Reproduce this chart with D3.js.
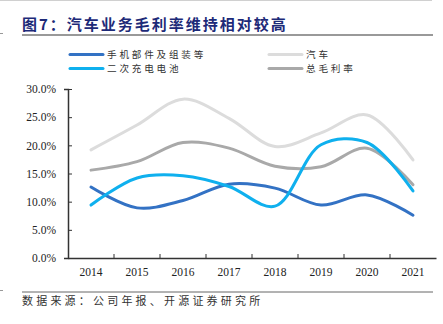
<!DOCTYPE html>
<html>
<head>
<meta charset="utf-8">
<script src="https://cdn.jsdelivr.net/npm/d3@7"></script>
<style>
  body { margin: 0; background: #fff; }
  svg { display: block; }
</style>
</head>
<body>
<svg id="chart" width="443" height="324"></svg>
<script>
// 数据
let years = ['2014', '2015', '2016', '2017', '2018', '2019', '2020', '2021'];
let phone = [12.6, 8.9, 10.2, 13.1, 12.4, 9.4, 11.2, 7.6];      // 手机部件及组装等
let auto = [19.2, 23.6, 28.2, 24.8, 19.8, 22.2, 25.4, 17.4];    // 汽车
let battery = [9.4, 14.2, 14.6, 12.7, 9.2, 20.1, 20.5, 11.9];   // 二次充电电池
let total = [15.6, 17.1, 20.5, 19.5, 16.3, 16.2, 19.5, 13.0];   // 总毛利率
let yTicks = [0, 5, 10, 15, 20, 25, 30];

let series = [
    {name: '手机部件及组装等', values: phone, color: '#3372C4'},
    {name: '汽车', values: auto, color: '#DCDCDC'},
    {name: '二次充电电池', values: battery, color: '#0FB0EE'},
    {name: '总毛利率', values: total, color: '#A9A9A9'}
];

let svg = d3.select('#chart');
const cjk = '"Noto Sans CJK SC", "Noto Sans", sans-serif';
const serif = '"Liberation Serif", "DejaVu Serif", serif';

// 顶部和底部的线
svg.append('line').attr('x1', 0).attr('x2', 432).attr('y1', 0.5).attr('y2', 0.5)
    .attr('stroke', '#d0d0d0').attr('stroke-width', 1);
svg.append('line').attr('x1', 22).attr('x2', 433).attr('y1', 35).attr('y2', 35)
    .attr('stroke', '#999').attr('stroke-width', 2);
svg.append('line').attr('x1', 22).attr('x2', 433).attr('y1', 292).attr('y2', 292)
    .attr('stroke', '#666').attr('stroke-width', 1);
svg.append('line').attr('x1', 0).attr('x2', 3).attr('y1', 33.5).attr('y2', 33.5).attr('stroke', '#999');
svg.append('line').attr('x1', 0).attr('x2', 3).attr('y1', 290.5).attr('y2', 290.5).attr('stroke', '#999');

// 标题
svg.append('text').attr('x', 22).attr('y', 30)
    .attr('font-family', cjk).attr('font-size', 15).attr('font-weight', 'bold')
    .attr('fill', '#1D2A78').attr('letter-spacing', 2)
    .text('图7：汽车业务毛利率维持相对较高');

// 来源
svg.append('text').attr('x', 22).attr('y', 305)
    .attr('font-family', cjk).attr('font-size', 11).attr('fill', '#333')
    .attr('letter-spacing', 3.2)
    .text('数据来源：公司年报、开源证券研究所');

// 图例
let legendPos = [[70, 54.5], [269, 54.5], [70, 68.5], [269, 68.5]];
series.forEach((s, i) => {
    let [lx, ly] = legendPos[i];
    svg.append('line').attr('x1', lx).attr('x2', lx + 33).attr('y1', ly).attr('y2', ly)
        .attr('stroke', s.color).attr('stroke-width', 3).attr('stroke-linecap', 'round');
    svg.append('text').attr('x', lx + 37).attr('y', ly + 3.5)
        .attr('font-family', cjk).attr('font-size', 9.6).attr('fill', '#333')
        .attr('letter-spacing', 2.8)
        .text(s.name);
});

// 比例尺
let x = d3.scaleBand().domain(years).range([68, 436]);
let y = d3.scaleLinear().domain([0, 30]).range([258, 89]);

// y轴
let yAxis = svg.append('g').attr('transform', 'translate(68,0)')
    .call(d3.axisLeft(y).tickValues(yTicks).tickSize(4).tickFormat(d => d.toFixed(1) + '%'));
// x轴
let xAxis = svg.append('g').attr('transform', 'translate(0,258)')
    .call(d3.axisBottom(x).tickSize(0).tickPadding(10));
// 类别之间的刻度
svg.append('g').selectAll('line')
    .data(years.slice(1))
    .join('line')
    .attr('x1', d => x(d)).attr('x2', d => x(d))
    .attr('y1', 258).attr('y2', 254)
    .attr('stroke', '#333');

[yAxis, xAxis].forEach(g => {
    g.select('.domain').attr('stroke', '#333').attr('stroke-width', 1.5);
    g.selectAll('.tick line').attr('stroke', '#333');
    g.selectAll('text').attr('font-family', serif).attr('font-size', 11.5).attr('fill', '#222');
});
yAxis.selectAll('.tick line').attr('x2', 4);
yAxis.selectAll('text').attr('x', -12);

// 折线（平滑）
let line = d3.line()
    .x((d, i) => x(years[i]) + x.bandwidth() / 2)
    .y(d => y(d))
    .curve(d3.curveCatmullRom.alpha(0.5));

svg.append('g')
    .attr('fill', 'none')
    .selectAll('path')
    .data([series[1], series[3], series[0], series[2]])
    .join('path')
    .attr('stroke', d => d.color)
    .attr('stroke-width', 3)
    .attr('stroke-linecap', 'round')
    .attr('d', d => line(d.values));
</script>
</body>
</html>
